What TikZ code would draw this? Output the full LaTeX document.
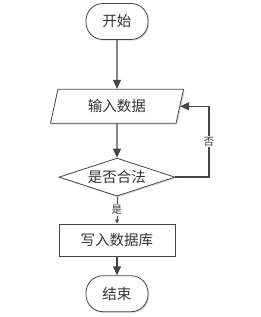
\documentclass[tikz,border=0pt]{standalone}
\usepackage{fontspec}
\newfontfamily\cjk{Noto Sans CJK SC}
\usepackage{xcolor}
\usepackage{tikz}
\usetikzlibrary{arrows.meta,positioning,shapes.geometric,shadows}
\definecolor{flowline}{gray}{0.27}
\definecolor{flowtext}{gray}{0.2}
\definecolor{flowshade}{gray}{0.85}

\begin{document}
\begin{tikzpicture}[
        x=1pt,y=1pt,
        node distance=30pt,
        base/.style={draw=flowline,line width=0.8pt,fill=white,
                    text=flowtext,font=\cjk\fontsize{14.5}{16}\selectfont,
                    drop shadow={shadow xshift=1.2pt,shadow yshift=-1.2pt,
                    fill=flowshade,opacity=1}},
        term/.style={base,rectangle,rounded corners=17pt,
                    minimum width=62pt,minimum height=36pt},
        io/.style={base,trapezium,trapezium left angle=61,
                    trapezium right angle=119,trapezium stretches body,
                    minimum width=133pt,minimum height=34pt,inner sep=0pt},
        decide/.style={base,diamond,aspect=3,inner sep=0pt,
                    minimum width=116pt,minimum height=38pt},
        proc/.style={base,rectangle,minimum width=116pt,minimum height=32pt},
        flow/.style={draw=flowline,line width=1.3pt,
                    -{Triangle[length=9pt,width=8pt]}},
        lab/.style={fill=white,text=flowtext,inner sep=1pt,
                    font=\cjk\fontsize{10.5}{12}\selectfont}
      ]
        \useasboundingbox (0,0) rectangle (261,-317);
        \node[term] (start) at (117,-21.5) {开始};
        \node[io,below=49pt of start] (input) {输入数据};
        \node[decide,below=34pt of input] (check) {是否合法};
        \node[proc,below=27pt of check] (store) {写入数据库};
        \node[term,below=19pt of store] (finish) {结束};
        \coordinate (back) at (209,0);
        \draw[flow] (start)--(input);
        \draw[flow] (input)--(check);
        \draw[flow] (check.east)--(check.east -| back)--(input.east -| back)
          node[lab,pos=0.5] {否}--(input.east);
        \draw[draw=flowline,line width=0.6pt,-{Triangle[length=4pt,width=4pt]}]
          (check.south)--(store.north) node[lab,pos=0.5] {是};
        \draw[flow] (store)--(finish);
      \end{tikzpicture}
\end{document}
